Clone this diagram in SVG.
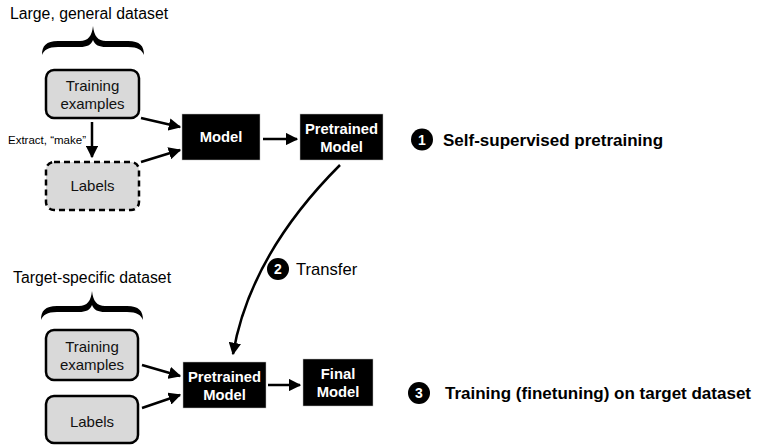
<svg xmlns="http://www.w3.org/2000/svg" width="757" height="445" viewBox="0 0 757 445">
  <defs>
    <marker id="ah" viewBox="0 0 10 10" refX="9" refY="5" markerWidth="5" markerHeight="5" orient="auto" markerUnits="strokeWidth">
      <path d="M0,0 L10,5 L0,10 z" fill="#000"/>
    </marker>
    <!-- tapered curly brace, reused for both datasets -->
    <path id="brace" d="M42,55 C42,46 46,41 58,41 L80,41 C88,41 92,36 93,26 C94,36 98,41 106,41 L128,41 C140,41 144,46 144,55 C142,50 138,47 128,47 L106,47 C99,47 95,45 93,40 C91,45 87,47 80,47 L58,47 C48,47 44,50 42,55 Z" fill="#000"/>
    <style>
      text { font-family: "Liberation Sans", Arial, sans-serif; }
      .lbl { font-size: 15.8px; fill: #000; }
      .box { fill: #d9d9d9; stroke: #000; stroke-width: 2.5; }
      .dash { stroke-dasharray: 6 4; }
      .blk { fill: #000; stroke: #bbb; stroke-width: 0.5; }
      .wt { font-size: 14.8px; font-weight: bold; fill: #fff; text-anchor: middle; }
      .gt { font-size: 15px; fill: #111; text-anchor: middle; }
      .conn { fill: none; stroke: #000; stroke-width: 2.5; marker-end: url(#ah); }
      .step { font-size: 17px; font-weight: bold; fill: #000; }
      .num { font-size: 14px; font-weight: bold; fill: #fff; text-anchor: middle; }
    </style>
  </defs>

  <!-- upper dataset -->
  <g id="dataset-general">
    <text class="lbl" x="10" y="19">Large, general dataset</text>
    <use href="#brace"/>
  </g>
  <g id="train-examples-1">
    <rect class="box" x="46" y="70" width="93" height="48" rx="8"/>
    <text class="gt" x="92.5" y="91">Training</text>
    <text class="gt" x="92.5" y="109">examples</text>
  </g>
  <g id="labels-1">
    <rect class="box dash" x="46" y="162" width="93" height="48" rx="8"/>
    <text class="gt" x="92.5" y="191">Labels</text>
  </g>
  <g id="model">
    <rect class="blk" x="182" y="114" width="78" height="46"/>
    <text class="wt" x="221" y="142">Model</text>
  </g>
  <g id="pretrained-1">
    <rect class="blk" x="300" y="114" width="83" height="46"/>
    <text class="wt" x="341.5" y="134">Pretrained</text>
    <text class="wt" x="341.5" y="152">Model</text>
  </g>
  <g id="step-1">
    <circle cx="422" cy="139.5" r="11" fill="#000"/>
    <text class="num" x="422" y="144.5">1</text>
    <text class="step" x="443" y="145.5">Self-supervised pretraining</text>
  </g>

  <!-- transfer -->
  <g id="step-2">
    <circle cx="278" cy="269" r="11" fill="#000"/>
    <text class="num" x="278" y="274">2</text>
    <text class="lbl" style="font-size:16.6px" x="296" y="275">Transfer</text>
  </g>

  <!-- lower dataset -->
  <g id="dataset-target">
    <text class="lbl" x="13" y="283">Target-specific dataset</text>
    <use href="#brace" transform="translate(-1,265)"/>
  </g>
  <g id="train-examples-2">
    <rect class="box" x="46" y="330" width="92" height="50" rx="8"/>
    <text class="gt" x="92" y="352">Training</text>
    <text class="gt" x="92" y="370">examples</text>
  </g>
  <g id="labels-2">
    <rect class="box" x="46" y="396" width="92" height="47" rx="8"/>
    <text class="gt" x="92" y="427">Labels</text>
  </g>
  <g id="pretrained-2">
    <rect class="blk" x="183" y="362" width="83" height="46"/>
    <text class="wt" x="224.5" y="382">Pretrained</text>
    <text class="wt" x="224.5" y="400">Model</text>
  </g>
  <g id="final-model">
    <rect class="blk" x="303" y="359" width="70" height="47"/>
    <text class="wt" x="338" y="379">Final</text>
    <text class="wt" x="338" y="397">Model</text>
  </g>
  <g id="step-3">
    <circle cx="419" cy="393" r="11" fill="#000"/>
    <text class="num" x="419" y="398">3</text>
    <text class="step" x="445" y="399">Training (finetuning) on target dataset</text>
  </g>

  <!-- connectors -->
  <g id="connectors">
    <line class="conn" x1="92" y1="122" x2="92" y2="157"/>
    <text x="8" y="144" style="font-size:11.5px" fill="#000">Extract, “make”</text>
    <line class="conn" x1="141" y1="118" x2="180" y2="127"/>
    <line class="conn" x1="141" y1="162" x2="180" y2="150"/>
    <line class="conn" x1="263" y1="139" x2="297" y2="139"/>
    <path class="conn" d="M340,165 Q250,255 233,354"/>
    <line class="conn" x1="142" y1="365" x2="180" y2="376"/>
    <line class="conn" x1="142" y1="408" x2="180" y2="395"/>
    <line class="conn" x1="268" y1="385" x2="300" y2="385"/>
  </g>
</svg>
